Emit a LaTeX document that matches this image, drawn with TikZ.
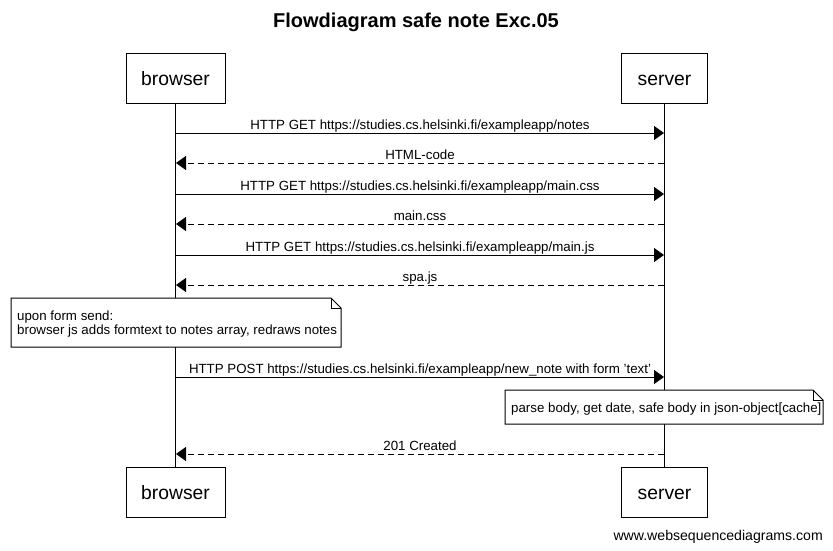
\documentclass[tikz,border=0pt]{standalone}
\usepackage{fontspec}
\setmainfont{Liberation Sans}
\usetikzlibrary{arrows.meta}
\begin{document}
\begin{tikzpicture}[x=1pt,y=-1pt,
  actor/.style={draw,line width=1pt,minimum width=99pt,minimum height=50pt,inner sep=0pt,text height=16pt,text depth=2pt,font=\fontsize{19.3}{23}\selectfont},
  msg/.style={line width=1pt,-{Triangle[length=10pt,width=14pt]}},
  reply/.style={msg,dash pattern=on 6pt off 4pt},
  lbl/.style={font=\fontsize{13.3}{15}\selectfont,inner sep=0pt,anchor=base},
  notetext/.style={font=\fontsize{13.3}{15}\selectfont,inner sep=0pt,anchor=base west,align=left},
  life/.style={line width=1pt}]
\useasboundingbox (0,0) rectangle (833,550);
\node[font=\fontsize{20}{24}\selectfont\bfseries] (title) at (416,22) {Flowdiagram safe note Exc.05};
\node[actor] (bt) at (175.5,78) {browser};
\node[actor,minimum width=86pt] (st) at (664.5,78) {server};
\node[actor] (bb) at (175.5,492) {browser};
\node[actor,minimum width=86pt] (sb) at (664.5,492) {server};
\draw[life] (bt.south) -- (bb.north);
\draw[life] (st.south) -- (sb.north);
% message coordinates
\foreach \n/\y in {1/133,2/163,3/194,4/224,5/255,6/285,7/377,8/454}{
  \coordinate (b\n) at (176,\y);
  \coordinate (s\n) at (664,\y);
}
\draw[msg] (b1) -- (s1);
\node[lbl] (l1) at (420,129) {HTTP GET https://studies.cs.helsinki.fi/exampleapp/notes};
\draw[reply] (s2) -- (b2);
\node[lbl] (l2) at (420,159) {HTML-code};
\draw[msg] (b3) -- (s3);
\node[lbl] (l3) at (420,190) {HTTP GET https://studies.cs.helsinki.fi/exampleapp/main.css};
\draw[reply] (s4) -- (b4);
\node[lbl] (l4) at (420,220) {main.css};
\draw[msg] (b5) -- (s5);
\node[lbl] (l5) at (420,251) {HTTP GET https://studies.cs.helsinki.fi/exampleapp/main.js};
\draw[reply] (s6) -- (b6);
\node[lbl] (l6) at (420,281) {spa.js};
% note 1
\draw[fill=white,line width=1pt] (11,298) -- (331,298) -- (341,308) -- (341,347) -- (11,347) -- cycle;
\draw[line width=0.8pt] (331,298) -- (331,308) -- (341,308);
\node[notetext] (n1a) at (17,320) {upon form send:};
\node[notetext] (n1b) at (17,334) {browser js adds formtext to notes array, redraws notes};
\draw[msg] (b7) -- (s7);
\node[lbl] (l7) at (420,373) {HTTP POST https://studies.cs.helsinki.fi/exampleapp/new\_note with form 'text'};
% note 2
\draw[fill=white,line width=1pt] (505,390) -- (813,390) -- (823,400) -- (823,424) -- (505,424) -- cycle;
\draw[line width=0.8pt] (813,390) -- (813,400) -- (823,400);
\node[notetext] (n2) at (511,412) {parse body, get date, safe body in json-object[cache]};
\draw[reply] (s8) -- (b8);
\node[lbl] (l8) at (420,450) {201 Created};
\node[font=\fontsize{14.1}{16}\selectfont,anchor=base east,inner sep=0pt] (foot) at (823,540) {www.websequencediagrams.com};
\end{tikzpicture}
\end{document}
